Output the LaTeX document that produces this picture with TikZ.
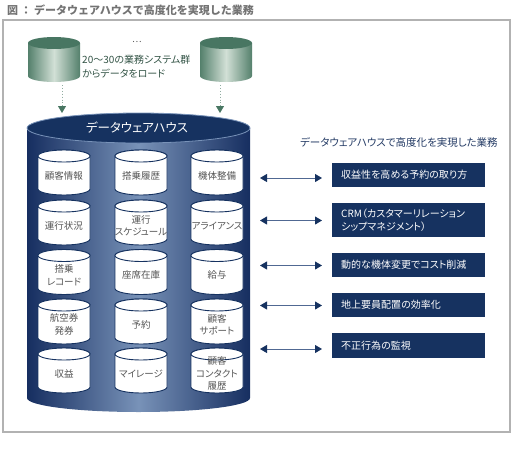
\documentclass[tikz,border=0pt]{standalone}
\usepackage{fontspec}
\setmainfont[RawFeature=+palt]{Noto Sans CJK JP}
\newfontfamily\titlefont{Noto Sans CJK JP}
\usetikzlibrary{arrows.meta}
\definecolor{navy}{RGB}{22,50,96}
\definecolor{navylight}{RGB}{120,146,184}
\definecolor{navyedge}{RGB}{22,46,96}
\definecolor{arrowline}{RGB}{80,104,146}
\definecolor{grntop}{RGB}{72,118,98}
\definecolor{grnedge}{RGB}{84,128,108}
\definecolor{grnlight}{RGB}{210,224,214}
\definecolor{txtgrey}{RGB}{85,85,85}
\definecolor{headblue}{RGB}{35,58,100}
\newcommand\smallcyl[4]{%
  \draw[smcyl] (#2-26,#3-16.5) -- (#2-26,#3+16.5)
    arc[start angle=180,end angle=360,x radius=26pt,y radius=6pt]
    -- (#2+26,#3-16.5)
    arc[start angle=0,end angle=180,x radius=26pt,y radius=6pt] -- cycle;
  \draw[smcyl] (#2,#3-16.5) ellipse[x radius=26pt,y radius=6pt];
  \node[smlabel] (#1) at (#2,#3+3) {#4};}
\tikzset{
  smcyl/.style={fill=white,draw=navy,line width=0.9pt},
  smlabel/.style={text=txtgrey,font=\fontsize{9.5}{12.5}\selectfont,align=center,inner sep=0pt},
  biarrow/.style={{Triangle[width=8pt,length=7pt,color=navy]}-{Triangle[width=8pt,length=7pt,color=navy]},draw=arrowline,line width=1pt},
  loadarrow/.style={-{Triangle[width=8pt,length=7pt,color=grntop]},draw=grntop!60,dotted,line width=0.9pt}
}
\begin{document}
\begin{tikzpicture}[x=1pt,y=-1pt]
\useasboundingbox (0,0) rectangle (520,448);
% title
\node[anchor=west,text=gray!90!black,font=\titlefont\fontsize{11}{13}\selectfont\bfseries,inner sep=0pt] (title) at (7,10) {図 ： データウェアハウスで高度化を実現した業務};
% frame
\draw[draw=gray!60,line width=1.3pt] (3,20) rectangle (510,432);
% green cylinders
\foreach \cx/\ax/\nm in {54/62/gl,226/220/gr}{
  \shade[left color=grnedge,right color=grnedge,middle color=grnlight]
    (\cx-26,43) -- (\cx-26,76) arc[start angle=180,end angle=360,x radius=26pt,y radius=6pt] -- (\cx+26,43) -- cycle;
  \fill[grntop] (\cx,43) ellipse[x radius=26pt,y radius=6pt];
  \coordinate (\nm) at (\ax,85);
}
\node[text=txtgrey,font=\fontsize{9}{11}\selectfont,inner sep=0pt] (dots) at (137,42) {…};
\node[anchor=north west,text=grntop!70!black,font=\fontsize{10}{14}\selectfont,align=left,inner sep=0pt] (srcs) at (82,55) {20～30の業務システム群\\からデータをロード};
% big cylinder
\shade[left color=navyedge,right color=navyedge,middle color=navylight]
  (27,128) -- (27,398) arc[start angle=180,end angle=360,x radius=111.5pt,y radius=14pt] -- (250,128) -- cycle;
\draw[fill=navy,draw=navylight,line width=0.8pt] (138.5,128) ellipse[x radius=111.5pt,y radius=15pt];
\node[text=white,font=\fontsize{12.5}{14}\selectfont,inner sep=0pt] (dwh) at (137,128) {データウェアハウス};
\coordinate (dL) at (62,113);
\coordinate (dR) at (220,113);
\draw[loadarrow] (gl) -- (dL);
\draw[loadarrow] (gr) -- (dR);
% small cylinders
\smallcyl{c11}{64}{172.5}{顧客情報}
\smallcyl{c12}{141}{172.5}{搭乗履歴}
\smallcyl{c13}{217}{172.5}{機体整備}
\smallcyl{c21}{64}{222.5}{運行状況}
\smallcyl{c22}{141}{222.5}{運行\\スケジュール}
\smallcyl{c23}{217}{222.5}{アライアンス}
\smallcyl{c31}{64}{272}{搭乗\\レコード}
\smallcyl{c32}{141}{272}{座席在庫}
\smallcyl{c33}{217}{272}{給与}
\smallcyl{c41}{64}{321.5}{航空券\\発券}
\smallcyl{c42}{141}{321.5}{予約}
\smallcyl{c43}{217}{321.5}{顧客\\サポート}
\smallcyl{c51}{64}{370.5}{収益}
\smallcyl{c52}{141}{370.5}{マイレージ}
\smallcyl{c53}{217}{370.5}{顧客\\コンタクト\\履歴}
% right heading
\node[anchor=west,text=headblue,font=\fontsize{10.5}{12}\selectfont,inner sep=0pt] (head) at (300,142) {データウェアハウスで高度化を実現した業務};
% task boxes
\foreach \nm/\y/\h/\t in {
  b1/163/24/{収益性を高める予約の取り方},
  b2/203/34/{CRM（カスタマーリレーション\\シップマネジメント）},
  b3/253/24/{動的な機体変更でコスト削減},
  b4/293/24/{地上要員配置の効率化},
  b5/333/25/{不正行為の監視}}{
  \fill[navy] (332,\y) rectangle (485,\y+\h);
  \node[anchor=west,text=white,font=\fontsize{10}{13.5}\selectfont,align=left,inner sep=0pt] (\nm) at (341,\y+\h/2) {\t};
}
% arrows
\foreach \i/\y in {1/178,2/220.5,3/265.5,4/305.5,5/349}{
  \coordinate (aL\i) at (260,\y);
  \coordinate (aR\i) at (322,\y);
  \draw[biarrow] (aL\i) -- (aR\i);
}
\end{tikzpicture}
\end{document}
